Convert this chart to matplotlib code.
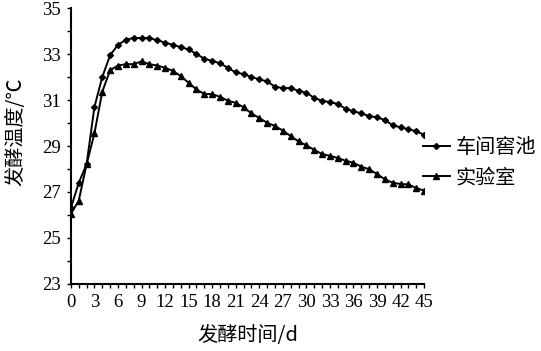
import matplotlib
matplotlib.use("Agg")
import matplotlib.pyplot as plt
from matplotlib.ticker import MultipleLocator

plt.rcParams['font.family'] = ['Liberation Serif', 'Noto Sans CJK SC']

days = list(range(46))
workshop = [26.3, 27.4, 28.2, 30.7, 32.0, 32.95, 33.4, 33.62, 33.7, 33.7,
            33.7, 33.6, 33.5, 33.4, 33.3, 33.2, 33.0, 32.8, 32.7, 32.6,
            32.4, 32.2, 32.13, 32.0, 31.9, 31.81, 31.58, 31.52, 31.52, 31.4,
            31.32, 31.09, 30.97, 30.91, 30.83, 30.62, 30.51, 30.42, 30.3, 30.25,
            30.13, 29.9, 29.81, 29.73, 29.64, 29.49]
lab = [26.05, 26.62, 28.2, 29.55, 31.36, 32.3, 32.5, 32.56, 32.56, 32.68,
       32.56, 32.5, 32.4, 32.27, 32.04, 31.75, 31.46, 31.26, 31.26, 31.14,
       30.97, 30.88, 30.68, 30.42, 30.22, 30.01, 29.87, 29.67, 29.43, 29.2,
       29.03, 28.83, 28.65, 28.57, 28.48, 28.36, 28.27, 28.1, 27.99, 27.78,
       27.55, 27.4, 27.35, 27.33, 27.17, 27.06]
series_names = ['车间窖池', '实验室']
xticks = list(range(0, 46, 3))
yticks = list(range(23, 36, 2))

fig = plt.figure(figsize=(5.41, 3.51), dpi=100)
ax = fig.add_axes([0.131, 0.191, 0.653, 0.786])

ax.plot(days, workshop, color='black', lw=1.4, marker='D', ms=3, label=series_names[0])
ax.plot(days, lab, color='black', lw=1.4, marker='^', ms=4, label=series_names[1])

ax.set_xlim(0, 45)
ax.set_ylim(23, 35)
ax.set_xticks(xticks)
ax.set_xticklabels([str(v) for v in xticks], family='Liberation Serif', fontsize=13.5)
ax.xaxis.set_minor_locator(MultipleLocator(1))
ax.set_yticks(yticks)
ax.set_yticklabels([str(v) for v in yticks], family='Liberation Serif', fontsize=13.5)
ax.yaxis.set_minor_locator(MultipleLocator(1))
for s in ['top', 'right']:
    ax.spines[s].set_visible(False)
for s in ['left', 'bottom']:
    ax.spines[s].set_linewidth(1.5)
ax.tick_params(axis='both', which='both', direction='out', width=1.0, colors='black')
ax.tick_params(axis='both', which='major', length=3, pad=4)
ax.tick_params(axis='both', which='minor', length=3)

ax.set_xlabel('发酵时间/d', fontsize=14.5, family=['Noto Sans CJK SC'], labelpad=10)
ax.set_ylabel('发酵温度/℃', fontsize=14.5, family=['Noto Sans CJK SC'])
ax.yaxis.set_label_coords(-0.125, 0.55)

leg = ax.legend(loc='center left', bbox_to_anchor=(0.975, 0.44), frameon=False,
                prop={'family': 'Noto Sans CJK SC', 'size': 14.5},
                handlelength=1.3, handletextpad=0.3, labelspacing=0.45, borderaxespad=0)

fig.savefig('out.png', dpi=100)
